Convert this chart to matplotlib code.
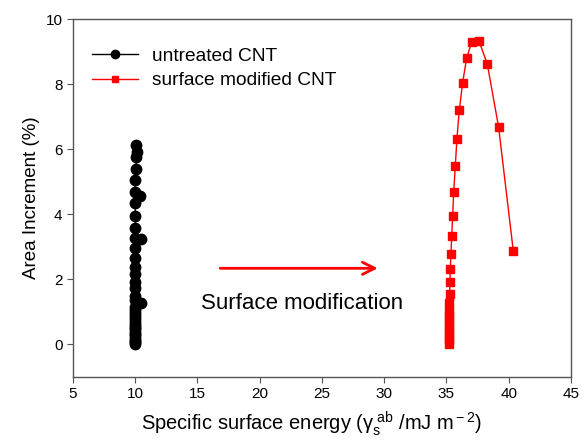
import matplotlib
matplotlib.use('Agg')
from matplotlib import pyplot as plt

plt.rcParams['font.family'] = ['Liberation Sans', 'DejaVu Sans']
plt.rcParams['mathtext.fontset'] = 'custom'
plt.rcParams['mathtext.rm'] = 'Liberation Sans'
plt.rcParams['mathtext.it'] = 'Liberation Sans'

# untreated CNT
untreated_x = [9.95, 9.95, 9.96, 9.96, 9.97, 9.97, 9.97, 9.98, 9.98, 9.98, 9.99, 9.99,
               9.99, 10.0, 10.0, 10.0, 10.5, 10.0, 10.0, 10.0, 10.0, 10.0, 10.0, 10.0,
               10.0, 10.45, 10.0, 10.0, 10.0, 10.0, 10.35, 10.0, 10.0, 10.05, 10.08,
               10.12, 10.05]
untreated_y = [0.0, 0.06, 0.12, 0.18, 0.25, 0.32, 0.39, 0.46, 0.53, 0.61, 0.69, 0.78,
               0.87, 0.96, 1.05, 1.15, 1.26, 1.37, 1.5, 1.72, 1.91, 2.15, 2.37, 2.65,
               2.95, 3.23, 3.26, 3.57, 3.94, 4.34, 4.55, 4.7, 5.05, 5.4, 5.75,
               5.9, 6.12]

# surface modified CNT
modified_x = [35.18, 35.18, 35.19, 35.19, 35.2, 35.2, 35.21, 35.21, 35.22, 35.23,
              35.26, 35.28, 35.31, 35.36, 35.42, 35.5, 35.58, 35.71, 35.84, 36.03,
              36.3, 36.62, 37.02, 37.61, 38.28, 39.19, 40.37]
modified_y = [0.0, 0.13, 0.26, 0.39, 0.52, 0.65, 0.78, 0.91, 1.05, 1.26,
              1.56, 1.92, 2.31, 2.78, 3.32, 3.96, 4.67, 5.48, 6.32, 7.2,
              8.05, 8.79, 9.3, 9.33, 8.62, 6.68, 2.87]

fig = plt.figure(figsize=(5.82, 4.44), dpi=100)
ax = fig.add_axes([0.1254, 0.151, 0.8556, 0.806])

ax.plot(untreated_x, untreated_y, color='black', lw=1, marker='o', ms=7.5,
        label='untreated CNT')
ax.plot(modified_x, modified_y, color='red', lw=1, marker='s', ms=6,
        label='surface modified CNT')

ax.annotate('', xy=(29.7, 2.34), xytext=(16.6, 2.34),
            arrowprops=dict(arrowstyle='->', color='red', lw=2,
                            mutation_scale=22))
ax.text(23.4, 1.26, 'Surface modification', fontsize=16, ha='center', va='center')

ax.set_xlim(5, 45)
ax.set_ylim(-1, 10)
ax.set_xticks(range(5, 50, 5))
ax.set_yticks(range(0, 11, 2))
ax.tick_params(direction='out', length=4, labelsize=11, color='#555555')
for s in ax.spines.values():
    s.set_color('#555555')
    s.set_linewidth(1)

ax.set_xlabel(r'Specific surface energy ($\mathrm{\gamma}_{\rm s}^{\rm \ ab}$ /mJ m$^{\rm -2}$)',
              fontsize=14.5)
ax.xaxis.set_label_coords(0.48, -0.09)
ax.set_ylabel('Area Increment (%)', fontsize=13.5)

ax.legend(loc='upper left', frameon=False, fontsize=13.8, handlelength=2.4,
          markerscale=0.8, handletextpad=0.7, labelspacing=0.38,
          bbox_to_anchor=(0.0, 0.975), borderaxespad=0.6)

plt.savefig('out.png')
